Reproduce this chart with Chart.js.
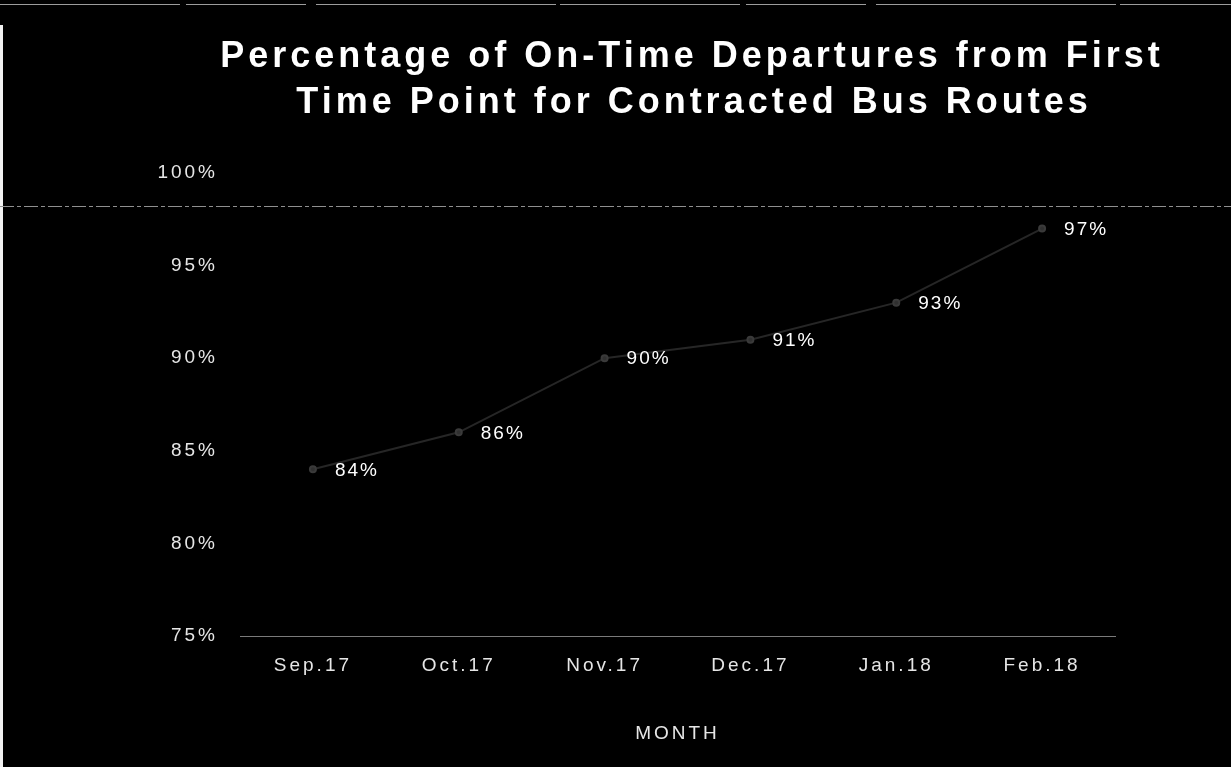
<!DOCTYPE html>
<html>
<head>
<meta charset="utf-8">
<script src="https://cdn.jsdelivr.net/npm/chart.js@4.4.1/dist/chart.umd.min.js"></script>
<style>
  html, body { margin: 0; padding: 0; background: #000; }
  #wrap { width: 1231px; height: 767px; position: relative; }
</style>
</head>
<body>
<div id="wrap"><canvas id="c" width="1231" height="767"></canvas></div>
<script>
const titleLines = ["Percentage of On-Time Departures from First", "Time Point for Contracted Bus Routes"];
const months = ["Sep.17", "Oct.17", "Nov.17", "Dec.17", "Jan.18", "Feb.18"];
const onTimePct = [84, 86, 90, 91, 93, 97];
const yMin = 75, yMax = 100, yStep = 5;
const xAxisTitle = "MONTH";

const FONT = "'Liberation Sans', Arial, sans-serif";

const spacingPlugin = {
  id: 'spacing',
  beforeLayout(chart) { chart.ctx.letterSpacing = '3px'; },
  beforeDraw(chart) {
    const ctx = chart.ctx;
    ctx.letterSpacing = '3px';
    ctx.save();
    ctx.fillStyle = '#000';
    ctx.fillRect(0, 0, chart.width, chart.height);
    ctx.restore();
  }
};

const decorPlugin = {
  id: 'decor',
  afterDraw(chart) {
    const ctx = chart.ctx;
    ctx.save();
    // scanned page edges
    ctx.fillStyle = '#f2f2f2';
    ctx.fillRect(0, 25, 3, chart.height - 25);
    ctx.strokeStyle = '#9c9c9c';
    ctx.lineWidth = 1;
    ctx.setLineDash([180, 6, 120, 10, 240, 4]);
    ctx.beginPath();
    ctx.moveTo(0, 4.5);
    ctx.lineTo(chart.width, 4.5);
    ctx.stroke();
    // title
    ctx.setLineDash([]);
    ctx.letterSpacing = '4px';
    ctx.fillStyle = '#ffffff';
    ctx.font = "bold 36px " + FONT;
    ctx.textAlign = 'center';
    ctx.textBaseline = 'alphabetic';
    ctx.fillText(titleLines[0], 692, 67);
    ctx.fillText(titleLines[1], 694, 113);
    // frame line below the title area
    ctx.letterSpacing = '0px';
    ctx.strokeStyle = '#8f8f8f';
    ctx.lineWidth = 1;
    ctx.setLineDash([14, 3, 4, 3]);
    ctx.beginPath();
    ctx.moveTo(0, 206.5);
    ctx.lineTo(chart.width, 206.5);
    ctx.stroke();
    ctx.restore();
  },
  afterDatasetsDraw(chart) {
    const ctx = chart.ctx;
    const meta = chart.getDatasetMeta(0);
    ctx.save();
    ctx.letterSpacing = '2px';
    ctx.fillStyle = '#ffffff';
    ctx.font = "19px " + FONT;
    ctx.textAlign = 'left';
    ctx.textBaseline = 'middle';
    meta.data.forEach((pt, i) => {
      ctx.fillText(onTimePct[i] + '%', pt.x + 22, pt.y + 1);
    });
    ctx.restore();
  }
};

new Chart(document.getElementById('c'), {
  type: 'line',
  data: {
    labels: months,
    datasets: [{
      data: onTimePct,
      borderColor: '#262626',
      borderWidth: 2,
      pointRadius: 3,
      pointBackgroundColor: '#303030',
      pointBorderColor: '#3a3a3a',
      tension: 0
    }]
  },
  options: {
    responsive: false,
    animation: false,
    devicePixelRatio: 1,
    layout: { padding: { top: 173, right: 116, left: 0, bottom: 0 } },
    plugins: {
      legend: { display: false },
      title: { display: false },
      tooltip: { enabled: false }
    },
    scales: {
      x: {
        offset: true,
        grid: { display: false, drawTicks: false },
        border: { display: true, color: '#7a7a7a', dash: [1, 2], width: 1 },
        ticks: { color: '#e6e6e6', font: { family: FONT, size: 19 }, padding: 18, maxRotation: 0 },
        title: { display: true, text: xAxisTitle, color: '#e6e6e6', font: { family: FONT, size: 19 }, padding: { top: 0, bottom: 22 } },
        afterFit(s) { s.height = 131; }
      },
      y: {
        min: yMin, max: yMax,
        grid: { display: false, drawTicks: false },
        border: { display: false },
        ticks: { stepSize: yStep, color: '#e6e6e6', font: { family: FONT, size: 19 }, padding: 22,
                 callback: v => v + '%' },
        afterFit(s) { s.width = 240; }
      }
    }
  },
  plugins: [spacingPlugin, decorPlugin]
});
</script>
</body>
</html>
